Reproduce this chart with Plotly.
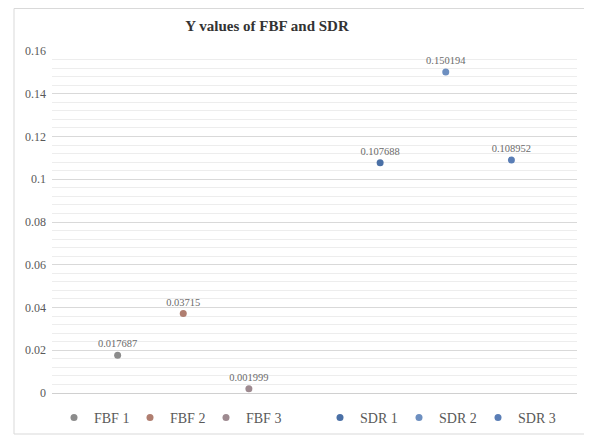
import plotly.graph_objects as go

names = ["FBF 1", "FBF 2", "FBF 3", "SDR 1", "SDR 2", "SDR 3"]
x_pos = [1, 2, 3, 5, 6, 7]
y_vals = [0.017687, 0.03715, 0.001999, 0.107688, 0.150194, 0.108952]
labels = ["0.017687", "0.03715", "0.001999", "0.107688", "0.150194", "0.108952"]
colors = ["#8c8c8c", "#b07e70", "#9e8a90", "#4a70a6", "#6d8fc0", "#5a7eb6"]
groups = ["legend", "legend", "legend", "legend2", "legend2", "legend2"]

serif = "Liberation Serif, Times New Roman, serif"

# page body adds an 8px offset; figure sized so that it fills the window
W, H = 584, 427
L, R, T, B = 44, 15, 43, 42
PW, PH = W - L - R, H - T - B

fig = go.Figure()
for n, xv, yv, lb, c, g in zip(names, x_pos, y_vals, labels, colors, groups):
    fig.add_trace(go.Scatter(
        x=[xv], y=[yv], mode="markers+text", name=n,
        text=[lb], textposition="top center",
        textfont=dict(family=serif, size=10.5, color="#6b6b6b"),
        marker=dict(size=7, color=c),
        cliponaxis=False, legend=g,
    ))

fig.update_layout(
    width=W, height=H,
    margin=dict(l=L, r=R, t=T, b=B, autoexpand=False),
    paper_bgcolor="white", plot_bgcolor="white",
    title=dict(text="<b>Y values of FBF and SDR</b>", x=(267 - 8) / W, xanchor="center",
               y=1 - 18 / H, yanchor="middle",
               font=dict(family=serif, size=15, color="#333333")),
    showlegend=True,
    legend=dict(orientation="h", x=(54 - 8 - L) / PW, xanchor="left",
                y=-25 / PH, yanchor="middle", entrywidth=31, entrywidthmode="pixels",
                font=dict(family=serif, size=14, color="#595959"),
                itemwidth=30, bgcolor="rgba(0,0,0,0)"),
    legend2=dict(orientation="h", x=(320 - 8 - L) / PW, xanchor="left",
                 y=-25 / PH, yanchor="middle", entrywidth=34, entrywidthmode="pixels",
                 font=dict(family=serif, size=14, color="#595959"),
                 itemwidth=30, bgcolor="rgba(0,0,0,0)"),
    xaxis=dict(range=[0, 8], showgrid=False, showticklabels=False, zeroline=False,
               showline=False, ticks=""),
    yaxis=dict(range=[0, 0.16], dtick=0.02, showgrid=True, gridcolor="#d9d9d9", gridwidth=1,
               zeroline=True, zerolinecolor="#d0d0d0", zerolinewidth=1,
               tickfont=dict(family=serif, size=12, color="#595959"),
               ticks="", ticklabelstandoff=5,
               minor=dict(dtick=0.004, showgrid=True, gridcolor="#ededed", gridwidth=1)),
    shapes=[dict(type="rect", xref="paper", yref="paper",
                 x0=(6 - L) / PW, x1=(580 - L) / PW, y0=-(426 - T - PH) / PH,
                 y1=1 + (T - 0.5) / PH,
                 line=dict(color="#d9d9d9", width=1), fillcolor="rgba(0,0,0,0)", layer="below")],
)

fig.write_html("out.html")
